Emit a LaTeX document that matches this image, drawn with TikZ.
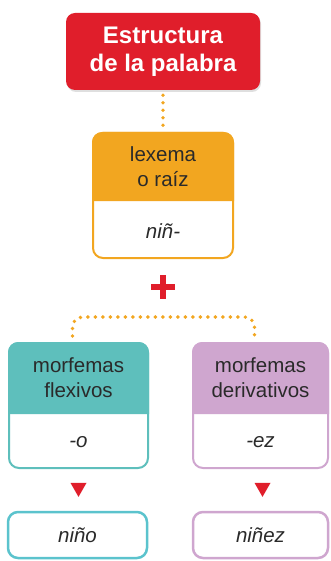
\documentclass[tikz,border=0pt]{standalone}
\usepackage{fontspec}
\setmainfont{Liberation Sans}
\usetikzlibrary{calc,shadows}
\definecolor{cred}{HTML}{E01E2B}
\definecolor{corange}{HTML}{F2A620}
\definecolor{cteal}{HTML}{5EBFBC}
\definecolor{cpink}{HTML}{CFA6CF}
\definecolor{ccyan}{HTML}{5BC3CD}
\definecolor{ctext}{HTML}{2A2A2A}
\begin{document}
\begin{tikzpicture}[x=1pt,y=-1pt,
  card/.style={draw=#1, line width=2pt, rounded corners=10pt, fill=white, inner sep=0pt},
  lbl/.style={text=ctext, font=\fontsize{20.5}{25}\selectfont, align=center, inner sep=0pt},
  ital/.style={text=ctext, font=\fontsize{20.5}{25}\selectfont\itshape, align=center, inner sep=0pt},
  dots/.style={draw=corange, line width=3.8pt, line cap=round, dash pattern=on 0pt off 7.5pt},
  tri/.style={fill=cred}]
\useasboundingbox (0,0) rectangle (330,561);

% title
\node[fill=cred, rounded corners=9pt, minimum width=194pt, minimum height=77pt, inner sep=0pt,
      drop shadow={opacity=0.25, shadow xshift=1pt, shadow yshift=-2pt},
      font=\bfseries\fontsize{24}{28}\selectfont, text=white, align=center] (title) at (163,51.5) {Estructura\\de la palabra};

% lexema card
\node[card=corange, minimum width=140pt, minimum height=125pt] (lex) at (163,195.5) {};
\fill[corange] ($(lex.north west)+(0,69)$) [rounded corners=10pt] -- (lex.north west) -- (lex.north east) [sharp corners] -- ($(lex.north east)+(0,69)$) -- cycle;
\node[lbl] (lexh) at ($(lex.north)+(0,34.5)$) {lexema\\o raíz};
\node[ital] (lexb) at ($(lex.south)+(0,-28)$) {niñ-};

\draw[dots] ($(title.south)+(0,5)$) -- ($(lex.north)+(0,-2)$);

% plus
\node[inner sep=0pt, minimum size=23pt] (plus) at (163,287) {};
\draw[cred, line width=6pt] (plus.west) -- (plus.east) (plus.north) -- (plus.south);

% flexivos card
\node[card=cteal, minimum width=139pt, minimum height=125pt] (flex) at (78.5,405.5) {};
\fill[cteal] ($(flex.north west)+(0,72)$) [rounded corners=10pt] -- (flex.north west) -- (flex.north east) [sharp corners] -- ($(flex.north east)+(0,72)$) -- cycle;
\node[lbl] (flexh) at ($(flex.north)+(0,36)$) {morfemas\\flexivos};
\node[ital] (flexb) at ($(flex.south)+(0,-26.5)$) {-o};

% derivativos card
\node[card=cpink, minimum width=135pt, minimum height=125pt] (deriv) at (260.5,405.5) {};
\fill[cpink] ($(deriv.north west)+(0,72)$) [rounded corners=10pt] -- (deriv.north west) -- (deriv.north east) [sharp corners] -- ($(deriv.north east)+(0,72)$) -- cycle;
\node[lbl] (derivh) at ($(deriv.north)+(0,36)$) {morfemas\\derivativos};
\node[ital] (derivb) at ($(deriv.south)+(0,-26.5)$) {-ez};

% bracket
\coordinate (bt) at (163,317);
\draw[dots, rounded corners=10pt] ($(flex.north)+(-6,-6)$) |- (bt) -| ($(deriv.north)+(-6,-6)$);

% results
\node[draw=ccyan, line width=2.5pt, rounded corners=10pt, minimum width=139pt, minimum height=46pt, inner sep=0pt] (nino) at (77.5,535) {};
\node[ital] (ninot) at (nino.center) {niño};
\node[draw=cpink, line width=2.5pt, rounded corners=10pt, minimum width=135pt, minimum height=46pt, inner sep=0pt] (ninez) at (260.5,535) {};
\node[ital] (ninezt) at (ninez.center) {niñez};

% triangles
\coordinate (t1) at ($(flex.south)!0.5!(nino.north)$);
\coordinate (t2) at ($(deriv.south)!0.5!(ninez.north)$);
\fill[tri] ($(t1)+(-7.5,-7)$) -- ($(t1)+(8.5,-7)$) -- ($(t1)+(0.5,7)$) -- cycle;
\fill[tri] ($(t2)+(-6,-7)$) -- ($(t2)+(10,-7)$) -- ($(t2)+(2,7)$) -- cycle;
\end{tikzpicture}
\end{document}
